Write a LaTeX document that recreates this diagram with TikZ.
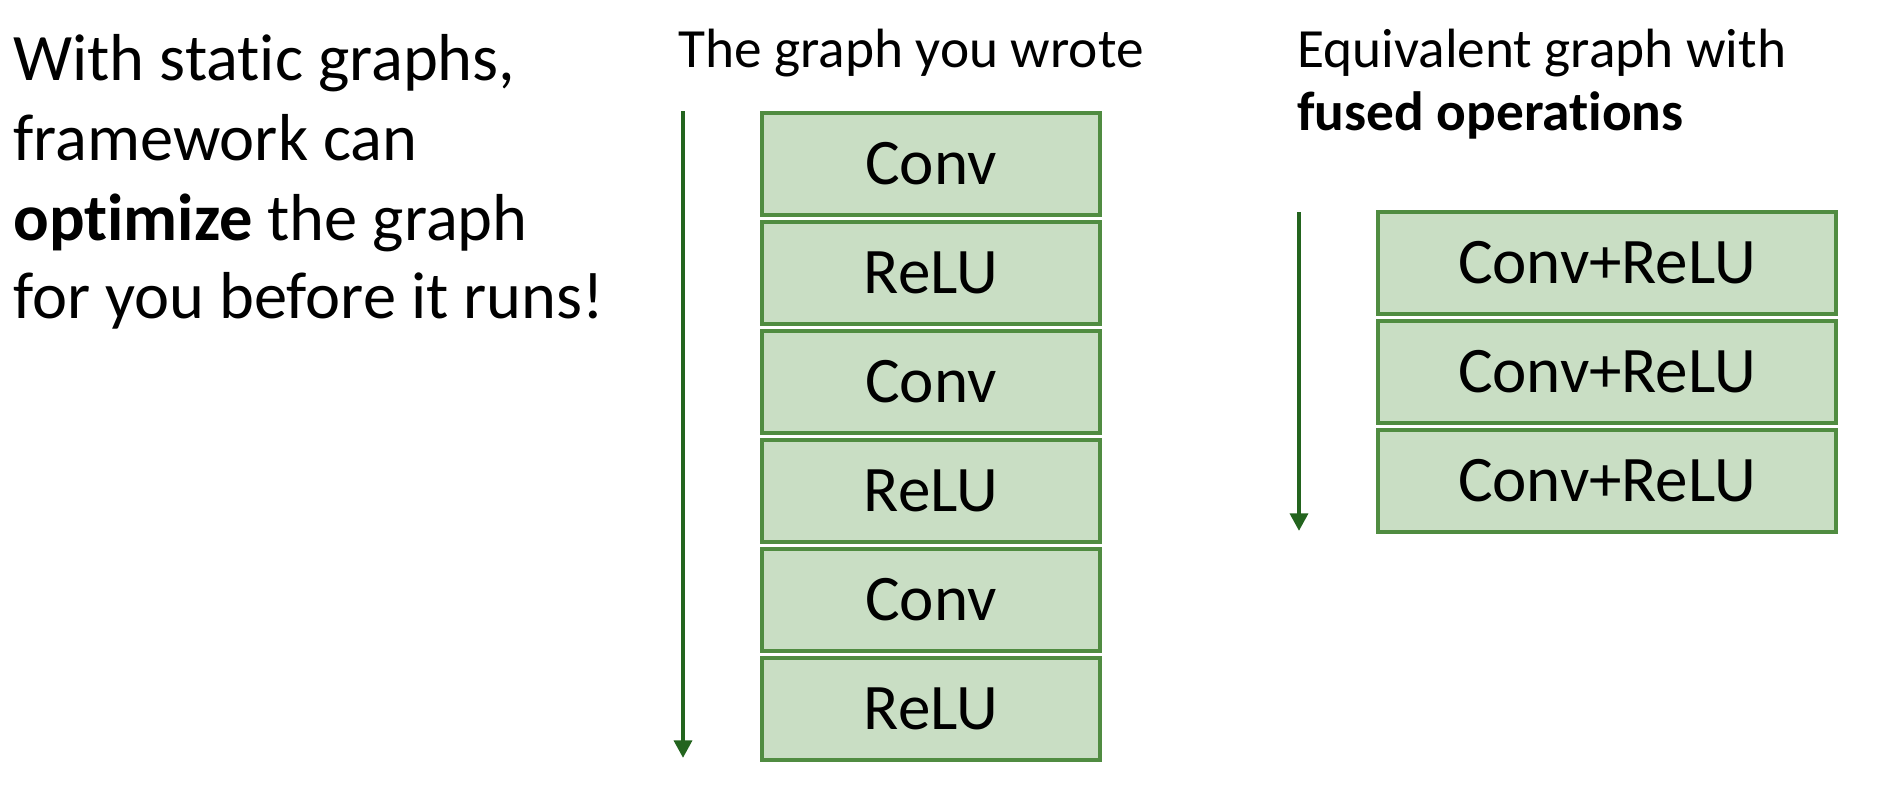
\documentclass[tikz,border=0pt]{standalone}
\usepackage{fontspec}
\setmainfont{Carlito}[Ligatures=NoCommon]
\usetikzlibrary{positioning, arrows.meta}
\definecolor{opgreen}{RGB}{80,140,65}
\definecolor{oplightgreen}{RGB}{201,222,196}
\definecolor{flowgreen}{RGB}{35,100,30}
\def\opwidth{6.76cm}
\def\fusedwidth{9.16cm}
\def\opheight{2.04cm}

\begin{document}
\begin{tikzpicture}[x=0.02cm, y=-0.02cm,
    opBox/.style={draw=opgreen, fill=oplightgreen, line width=2.3pt, outer sep=0pt,
      minimum width=\opwidth, minimum height=\opheight, font=\fontsize{37}{44}\selectfont},
    fusedBox/.style={opBox, minimum width=\fusedwidth},
    flowArrow/.style={draw=flowgreen, line width=2.6pt, -{Triangle[width=10pt, length=10pt]}},
    bigText/.style={inner sep=0pt, anchor=base west, font=\fontsize{37.8}{45}\selectfont},
    headText/.style={inner sep=0pt, anchor=base west, font=\fontsize{31.5}{36}\selectfont},
    node distance=0.14cm]
  \useasboundingbox[fill=white] (0,0) rectangle (1901,805);

  % text on the left
  \node[bigText] (lineA) at (13,80) {With static graphs,};
  \node[bigText] (lineB) at (13,160) {framework can};
  \node[bigText] (lineC) at (13,240) {\textbf{optimize} the graph};
  \node[bigText] (lineD) at (13,318) {for you before it runs!};

  % the graph you wrote
  \node[headText] (wroteTitle) at (678,67) {The graph you wrote};
  \node[opBox] (convA) at (931,164) {Conv};
  \node[opBox, below=of convA] (reluA) {ReLU};
  \node[opBox, below=of reluA] (convB) {Conv};
  \node[opBox, below=of convB] (reluB) {ReLU};
  \node[opBox, below=of reluB] (convC) {Conv};
  \node[opBox, below=of convC] (reluC) {ReLU};
  \coordinate (wroteTop) at (683,111);
  \coordinate (wroteEnd) at (683,758);
  \draw[flowArrow] (wroteTop) -- (wroteEnd);

  % equivalent fused graph
  \node[headText] (fusedTitleA) at (1297,67) {Equivalent graph with};
  \node[headText] (fusedTitleB) at (1297,130) {\textbf{fused operations}};
  \node[fusedBox] (fusedA) at (1607,263) {Conv+ReLU};
  \node[fusedBox, below=of fusedA] (fusedB) {Conv+ReLU};
  \node[fusedBox, below=of fusedB] (fusedC) {Conv+ReLU};
  \coordinate (fusedTop) at (1299,212);
  \coordinate (fusedEnd) at (1299,531);
  \draw[flowArrow] (fusedTop) -- (fusedEnd);
\end{tikzpicture}
\end{document}
